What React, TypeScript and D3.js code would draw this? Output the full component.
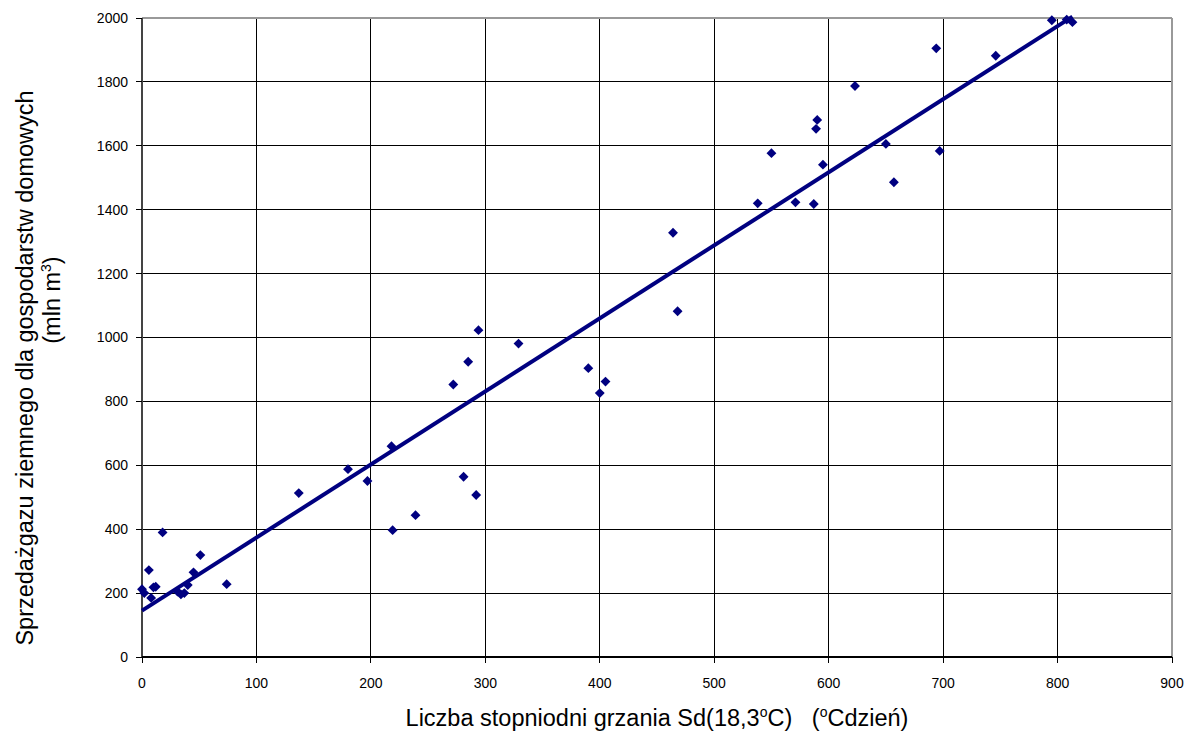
import React from "react";
import * as d3 from "d3";

// Heating degree-days vs. household natural gas sales
const degreeDays: number[] = [0, 2, 6, 8, 10, 12, 18, 31, 34, 37, 40, 45, 51, 74, 137, 180, 197, 218, 219, 239, 272, 281, 285, 292, 294, 329, 390, 400, 405, 464, 468, 538, 550, 571, 587, 589, 590, 595, 623, 650, 657, 694, 697, 746, 795, 808, 813];
const gasSales: number[] = [212, 200, 272, 185, 218, 220, 390, 205, 196, 200, 225, 265, 319, 228, 513, 588, 551, 660, 397, 444, 853, 564, 924, 507, 1023, 981, 904, 826, 862, 1328, 1082, 1420, 1577, 1423, 1418, 1653, 1681, 1541, 1787, 1606, 1486, 1905, 1584, 1882, 1993, 1995, 1987];

const xTicks: number[] = [0, 100, 200, 300, 400, 500, 600, 700, 800, 900];
const yTicks: number[] = [0, 200, 400, 600, 800, 1000, 1200, 1400, 1600, 1800, 2000];

const W = 1199;
const H = 734;
const plot = { left: 142, right: 1172, top: 18, bottom: 657 };
const NAVY = "#000080";
const FONT = "'Liberation Sans', Arial, sans-serif";
const TITLE_SIZE = 23.5;

export default function App() {
  const x = d3.scaleLinear().domain([0, 900]).range([plot.left, plot.right]);
  const y = d3.scaleLinear().domain([0, 2000]).range([plot.bottom, plot.top]);

  // least-squares linear trend
  const n = degreeDays.length;
  const mx = d3.mean(degreeDays) as number;
  const my = d3.mean(gasSales) as number;
  let sxy = 0;
  let sxx = 0;
  for (let i = 0; i < n; i++) {
    sxy += (degreeDays[i] - mx) * (gasSales[i] - my);
    sxx += (degreeDays[i] - mx) ** 2;
  }
  const slope = sxy / sxx;
  const intercept = my - slope * mx;
  const [xMin, xMax] = d3.extent(degreeDays) as [number, number];
  const trend = d3.line<number>().x((d) => x(d)).y((d) => y(intercept + slope * d))([xMin, xMax]) as string;

  const diamond = d3.symbol().type(d3.symbolDiamond2).size(62)() as string;

  return (
    <svg width={W} height={H} style={{ position: "absolute", left: 0, top: 0, background: "#fff" }} fontFamily={FONT}>
      {/* grid */}
      {yTicks.slice(1, -1).map((t) => (
        <line key={"gy" + t} x1={plot.left} x2={plot.right} y1={y(t)} y2={y(t)} stroke="#000" strokeWidth={1} shapeRendering="crispEdges" />
      ))}
      {xTicks.slice(1, -1).map((t) => (
        <line key={"gx" + t} x1={x(t)} x2={x(t)} y1={plot.top} y2={plot.bottom} stroke="#000" strokeWidth={1} shapeRendering="crispEdges" />
      ))}
      {/* plot frame */}
      <line x1={plot.left} x2={plot.right} y1={plot.top} y2={plot.top} stroke="#999" strokeWidth={1.5} shapeRendering="crispEdges" />
      <line x1={plot.right} x2={plot.right} y1={plot.top} y2={plot.bottom} stroke="#999" strokeWidth={1.5} shapeRendering="crispEdges" />
      {/* axes */}
      <line x1={plot.left} x2={plot.left} y1={plot.top} y2={plot.bottom} stroke="#444" strokeWidth={1.5} shapeRendering="crispEdges" />
      <line x1={plot.left} x2={plot.right} y1={plot.bottom} y2={plot.bottom} stroke="#000" strokeWidth={1.5} shapeRendering="crispEdges" />
      {yTicks.map((t) => (
        <g key={"ty" + t}>
          <line x1={plot.left - 6} x2={plot.left} y1={y(t)} y2={y(t)} stroke="#000" shapeRendering="crispEdges" />
          <text x={plot.left - 14} y={y(t)} dy="0.35em" textAnchor="end" fontSize={14} fill="#000">{t}</text>
        </g>
      ))}
      {xTicks.map((t) => (
        <g key={"tx" + t}>
          <line x1={x(t)} x2={x(t)} y1={plot.bottom} y2={plot.bottom + 6} stroke="#000" shapeRendering="crispEdges" />
          <text x={x(t)} y={plot.bottom + 31} textAnchor="middle" fontSize={14} fill="#000">{t}</text>
        </g>
      ))}
      {/* points */}
      {degreeDays.map((d, i) => (
        <path key={"p" + i} d={diamond} transform={`translate(${x(d)},${y(gasSales[i])})`} fill={NAVY} />
      ))}
      {/* trend line */}
      <path d={trend} fill="none" stroke={NAVY} strokeWidth={4} />
      {/* axis titles */}
      <text x={657} y={726} textAnchor="middle" fontSize={TITLE_SIZE} fill="#000" xmlSpace="preserve" style={{ whiteSpace: "pre" }}>
        Liczba stopniodni grzania Sd(18,3<tspan dy="-9" fontSize={14}>o</tspan><tspan dy="9">C)   (</tspan>
        <tspan dy="-9" fontSize={14}>o</tspan><tspan dy="9">Cdzień)</tspan>
      </text>
      <g transform="translate(33,368) rotate(-90)">
        <text x={0} y={0} textAnchor="middle" fontSize={TITLE_SIZE} fill="#000">Sprzedażgazu ziemnego dla gospodarstw domowych</text>
      </g>
      <g transform="translate(60,300) rotate(-90)">
        <text x={0} y={0} textAnchor="middle" fontSize={TITLE_SIZE} fill="#000">
          (mln m<tspan dy="-9" fontSize={14}>3</tspan><tspan dy="9">)</tspan>
        </text>
      </g>
    </svg>
  );
}
